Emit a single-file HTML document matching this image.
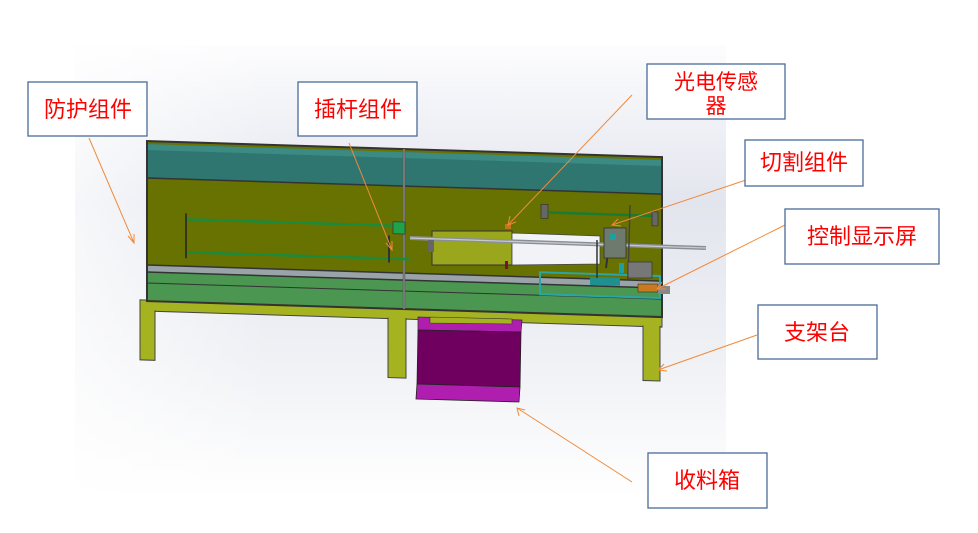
<!DOCTYPE html>
<html><head><meta charset="utf-8">
<style>
html,body{margin:0;padding:0;background:#fff;}
svg{display:block;}
text{font-family:"Liberation Sans","Noto Sans CJK SC",sans-serif;fill:#f00;font-size:22px;}
</style></head>
<body>
<svg width="978" height="533" viewBox="0 0 978 533" xmlns="http://www.w3.org/2000/svg">
<defs>
<linearGradient id="bg" x1="0" y1="0" x2="0" y2="1">
<stop offset="0" stop-color="#fdfdfe"/><stop offset="0.35" stop-color="#e3e5ee"/><stop offset="0.7" stop-color="#f0f1f5"/><stop offset="1" stop-color="#ffffff"/>
</linearGradient>
<linearGradient id="bgx" x1="0" y1="0" x2="1" y2="0">
<stop offset="0" stop-color="#fff" stop-opacity="0.7"/><stop offset="0.3" stop-color="#fff" stop-opacity="0"/><stop offset="1" stop-color="#fff" stop-opacity="0"/>
</linearGradient>
</defs>
<rect x="75" y="45" width="651" height="450" fill="url(#bg)"/>
<rect x="75" y="45" width="651" height="450" fill="url(#bgx)"/>

<g transform="translate(145,0) skewY(1.78) translate(-145,0)">
  <!-- legs + base -->
  <rect x="140" y="300" width="522" height="11" fill="#a6b320" stroke="#444" stroke-width="1"/>
  <rect x="140" y="300" width="15" height="60" fill="#a6b320" stroke="#444" stroke-width="1"/>
  <rect x="388" y="305" width="18" height="65" fill="#a6b320" stroke="#444" stroke-width="1"/>
  <rect x="643" y="305" width="17" height="60" fill="#a6b320" stroke="#444" stroke-width="1"/>
  <rect x="141" y="301" width="520" height="9" fill="#a6b320"/>
  <!-- panels -->
  <rect x="147" y="141" width="515" height="160" fill="#6b7300"/>
  <rect x="148" y="144" width="513" height="34" fill="#2f7670"/>
  <rect x="148" y="144" width="513" height="6" fill="#3b8a84"/>
  <rect x="147" y="178" width="515" height="87" fill="#687200"/>
  <rect x="147" y="265" width="515" height="7" fill="#9aa4a8"/>
  <rect x="147" y="272" width="515" height="28" fill="#4b9650"/>
  <line x1="147" y1="283" x2="662" y2="283" stroke="#333" stroke-width="1"/>
  <rect x="147" y="141" width="515" height="160" fill="none" stroke="#333" stroke-width="2"/>
  <line x1="147" y1="178" x2="662" y2="178" stroke="#333" stroke-width="1.5"/>
  <line x1="147" y1="265" x2="662" y2="265" stroke="#333" stroke-width="1.5"/>
  <line x1="147" y1="272" x2="662" y2="272" stroke="#333" stroke-width="1.5"/>
  <line x1="404" y1="141" x2="404" y2="301" stroke="#555" stroke-width="2.5"/>
  <line x1="404" y1="141" x2="404" y2="301" stroke="#999" stroke-width="1"/>
  <!-- left rods -->
  <line x1="186" y1="212" x2="186" y2="257" stroke="#222" stroke-width="1.5"/>
  <line x1="188" y1="218" x2="395" y2="218" stroke="#1d8a3a" stroke-width="2.5"/>
  <line x1="188" y1="251" x2="410" y2="251" stroke="#1d8a3a" stroke-width="2.5"/>
  <rect x="393" y="214" width="12" height="12" fill="#1fa34a" stroke="#333" stroke-width="0.7"/>
  <line x1="389" y1="228" x2="389" y2="255" stroke="#333" stroke-width="2"/>
  <!-- right upper rod -->
  <rect x="541" y="192" width="7" height="14" fill="#666" stroke="#333" stroke-width="0.7"/>
  <line x1="548" y1="200" x2="654" y2="200" stroke="#1d7a33" stroke-width="2.5"/>
  <rect x="652" y="196" width="6" height="14" fill="#666" stroke="#333" stroke-width="0.7"/>
  <!-- lower right mechanism -->
  <rect x="540" y="260" width="120" height="22" fill="none" stroke="#2aa6a6" stroke-width="2"/>
  <rect x="590" y="263" width="30" height="8" fill="#1f8f8f"/>
</g>

<!-- middle slider (actual coords) -->
<rect x="432" y="231" width="80" height="34" fill="#9aa71c" stroke="#333" stroke-width="1"/>
<polygon points="512,233 600,236 600,264 512,265" fill="#f2f3f6" stroke="#444" stroke-width="0.8"/>
<line x1="410" y1="238" x2="706" y2="248" stroke="#8a8f95" stroke-width="4"/>
<line x1="410" y1="238" x2="706" y2="248" stroke="#c6c9cd" stroke-width="1.3"/>
<rect x="428" y="240" width="6" height="12" fill="#666"/>
<rect x="505" y="224" width="6" height="5" fill="#c2751b"/>
<rect x="505" y="261" width="3" height="8" fill="#7a1030"/>
<line x1="611" y1="228" x2="606" y2="268" stroke="#333" stroke-width="2"/>
<rect x="604" y="228" width="22" height="30" fill="#6f7a6f" stroke="#333" stroke-width="0.8"/>
<rect x="610" y="234" width="6" height="6" fill="#1ea0a0"/>
<line x1="597" y1="240" x2="597" y2="278" stroke="#333" stroke-width="1.5"/>
<line x1="630" y1="205" x2="628" y2="280" stroke="#444" stroke-width="1.5"/>
<rect x="628" y="262" width="24" height="16" fill="#777" stroke="#333" stroke-width="0.7"/>
<rect x="619" y="263" width="5" height="10" fill="#1ea0a0"/>
<rect x="638" y="284" width="20" height="8" fill="#c87a1e" stroke="#333" stroke-width="0.6"/>
<rect x="658" y="286" width="12" height="8" fill="#888"/>

<!-- bin -->
<polygon points="418,317 522,320 521,332 418,330" fill="#b01eb0" stroke="#333" stroke-width="0.8"/>
<polygon points="430,317 512,319 512,324 430,323" fill="#a6b320" stroke="#333" stroke-width="0.6"/>
<polygon points="418,330 521,332 520,387 417,384" fill="#700060" stroke="#222" stroke-width="0.8"/>
<polygon points="417,384 520,387 519,402 416,399" fill="#b01eb0" stroke="#222" stroke-width="0.8"/>

<!-- arrows -->
<g stroke="#f08a3a" stroke-width="1" fill="none">
<line x1="89" y1="138" x2="134" y2="243"/><polyline points="128,236 134,243 134,234"/>
<line x1="349" y1="143" x2="392" y2="250"/><polyline points="386,243 392,250 392,241"/>
<line x1="632" y1="95" x2="508" y2="225"/><polyline points="510,216 508,225 516,222"/>
<line x1="746" y1="180" x2="612" y2="225"/><polyline points="618,219 612,225 621,226"/>
<line x1="785" y1="225" x2="657" y2="289"/><polyline points="662,282 657,289 666,289"/>
<line x1="757" y1="335" x2="658" y2="370"/><polyline points="664,364 658,370 667,371"/>
<line x1="632" y1="482" x2="517" y2="408"/><polyline points="519,416 517,408 525,410"/>
</g>

<!-- labels -->
<g fill="#fff" stroke="#4a6b98" stroke-width="1.3">
<rect x="28" y="82" width="119" height="54"/>
<rect x="298" y="82" width="119" height="54"/>
<rect x="647" y="64" width="138" height="55"/>
<rect x="745" y="140" width="118" height="46"/>
<rect x="785" y="209" width="154" height="55"/>
<rect x="758" y="305" width="119" height="54"/>
<rect x="648" y="453" width="119" height="55"/>
</g>
<text x="88" y="117" text-anchor="middle">防护组件</text>
<text x="358" y="117" text-anchor="middle">插杆组件</text>
<text x="716" y="89" text-anchor="middle" style="font-size:21px">光电传感</text>
<text x="716" y="113" text-anchor="middle" style="font-size:21px">器</text>
<text x="804" y="170" text-anchor="middle">切割组件</text>
<text x="862" y="244" text-anchor="middle">控制显示屏</text>
<text x="817" y="340" text-anchor="middle">支架台</text>
<text x="707" y="488" text-anchor="middle">收料箱</text>
</svg>
</body></html>
